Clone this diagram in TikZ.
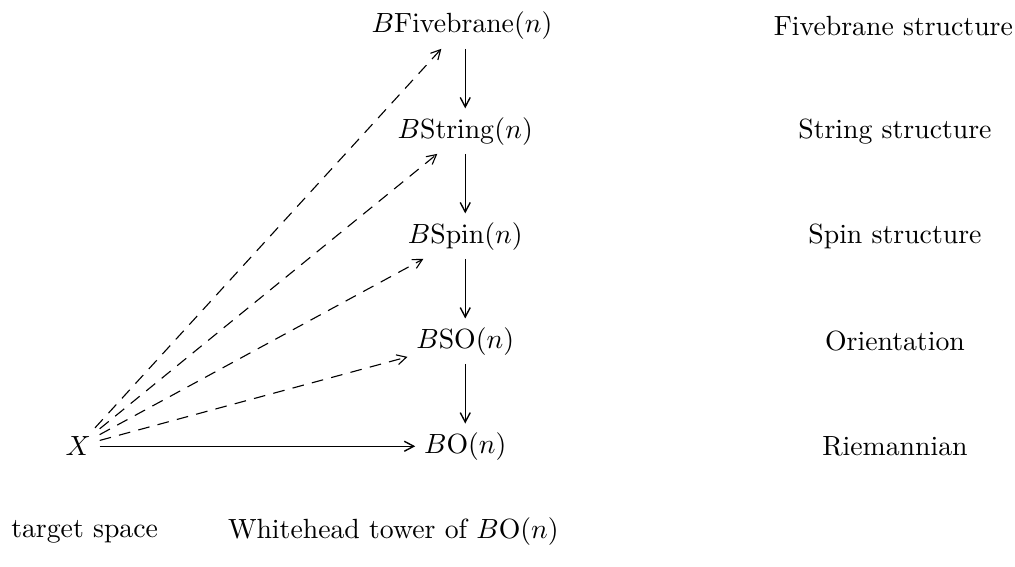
\documentclass[tikz,border=0pt]{standalone}
\usepackage{amsmath,amssymb}
\usepackage{tikz}
\usetikzlibrary{arrows.meta,positioning}

\begin{document}
\begin{tikzpicture}[
    on grid,
    obj/.style={inner sep=3pt},
    lbl/.style={inner sep=3pt},
    arr/.style={-{Straight Barb[length=3.4pt,width=3.6pt]}, line width=0.5pt},
    darr/.style={-{Straight Barb[length=3.4pt,width=3.6pt]}, dash pattern=on 4.2pt off 3pt}
  ]
    \useasboundingbox (-0.99,-1.52) rectangle (11.86,5.65);
    % tower
    \node[obj] (X) at (0,0) {$X$};
    \node[obj, right=4.9cm of X] (bo) {$B\mathrm{O}(n)$};
    \node[obj, above=1.33cm of bo] (bso) {$B\mathrm{SO}(n)$};
    \node[obj, above=1.33cm of bso] (bspin) {$B\mathrm{Spin}(n)$};
    \node[obj, above=1.33cm of bspin] (bstring) {$B\mathrm{String}(n)$};
    \node[obj, above=1.33cm of bstring, xshift=-0.04cm] (bfive) {$B\mathrm{Fivebrane}(n)$};
    % structures
    \node[lbl, right=5.44cm of bo] (riem) {Riemannian};
    \node[lbl, right=5.44cm of bso] (orient) {Orientation};
    \node[lbl, right=5.44cm of bspin] (spin) {Spin structure};
    \node[lbl, right=5.44cm of bstring] (string) {String structure};
    \node[lbl, right=5.44cm of bfive, xshift=0.02cm] (five) {Fivebrane structure};
    % bottom row
    \node[lbl, anchor=west] (target) at (-0.96,-1.08) {target space};
    \node[lbl, below=1.08cm of bo, xshift=-0.91cm] (tower) {Whitehead tower of $B\mathrm{O}(n)$};

    \draw[arr] (bfive.south -| bstring) -- (bstring);
    \draw[arr] (bstring) -- (bspin);
    \draw[arr] (bspin) -- (bso);
    \draw[arr] (bso) -- (bo);
    \draw[arr] (X) -- (bo);
    \draw[darr] (X) -- (bso);
    \draw[darr] (X) -- (bspin);
    \draw[darr] (X) -- (bstring);
    \draw[darr] (X) -- (bfive);
  \end{tikzpicture}
\end{document}
